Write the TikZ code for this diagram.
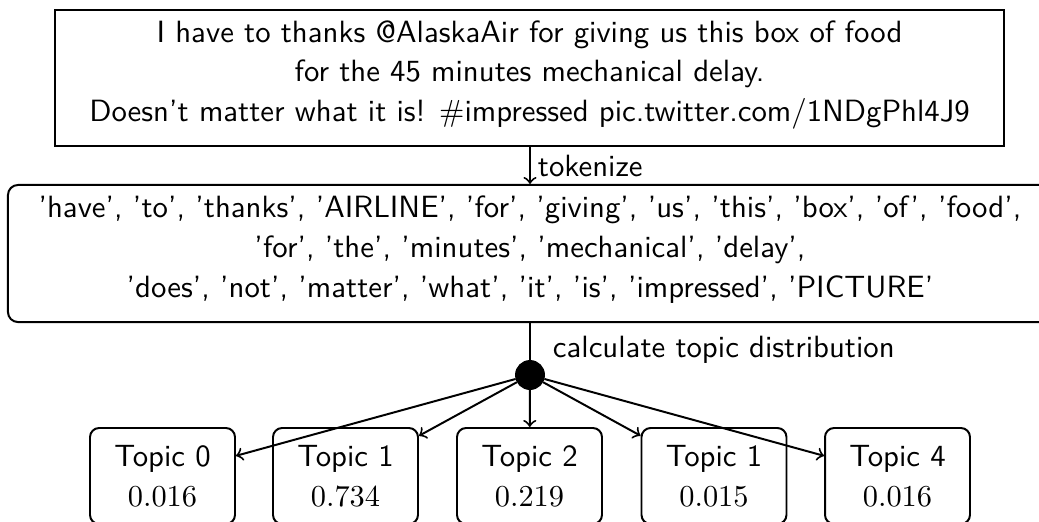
\documentclass[tikz,border=0pt]{standalone}
\newcommand\dstrut{\rule[-4.6pt]{0pt}{0pt}}
\begin{document}
\begin{tikzpicture}[x=0.329pt,y=-0.329pt,
  line width=0.65pt,
  every node/.style={font=\fontsize{10.12}{13.1}\selectfont\sffamily},
  tweetbox/.style={draw, rectangle, align=center, minimum width=312.2pt, minimum height=44.7pt, inner sep=0pt},
  tokbox/.style={draw, rectangle, rounded corners=3.3pt, align=center, minimum width=343.5pt, minimum height=45.1pt, inner sep=0pt},
  topicbox/.style={draw, rectangle, rounded corners=3pt, align=center, minimum width=47.7pt, minimum height=31.6pt, inner sep=0pt},
  dotnode/.style={circle, fill=black, draw=black, minimum size=9.2pt, inner sep=0pt},
  lbl/.style={anchor=west, inner sep=0pt},
  arr/.style={->}
]
\useasboundingbox (0,0) rectangle (1039,521);
\clip (0,0) rectangle (1039,521);
\node[tweetbox] (tweet) at (529.5,78) {I have to thanks @AlaskaAir for giving us this box of food\\for the 45 minutes mechanical delay.\\Doesn't matter what it is! $\#$impressed pic.twitter.com/1NDgPhl4J9\dstrut};
\node[tokbox] (tokens) at (530,253.5) {'have', 'to', 'thanks', 'AIRLINE', 'for', 'giving', 'us', 'this', 'box', 'of', 'food',\\'for', 'the', 'minutes', 'mechanical', 'delay',\\'does', 'not', 'matter', 'what', 'it', 'is', 'impressed', 'PICTURE'\dstrut};
\draw[arr] (tweet.south -| tokens.north) -- (tokens.north);
\node[lbl] (tok) at (537,166) {tokenize};
\node[dotnode] (dot) at (530,375) {};
\draw (tokens.south) -- (dot);
\node[lbl] (calc) at (552,350) {calculate topic distribution};
\node[topicbox] (t0) at (162.5,476) {Topic 0\\$0.016$};
\node[topicbox] (t1) at (345.5,476) {Topic 1\\$0.734$};
\node[topicbox] (t2) at (529.5,476) {Topic 2\\$0.219$};
\node[topicbox] (t3) at (714,476) {Topic 1\\$0.015$};
\node[topicbox] (t4) at (897.5,476) {Topic 4\\$0.016$};
\foreach \t in {t0,t1,t2,t3,t4} \draw[arr] (dot) -- (\t);
\end{tikzpicture}
\end{document}
